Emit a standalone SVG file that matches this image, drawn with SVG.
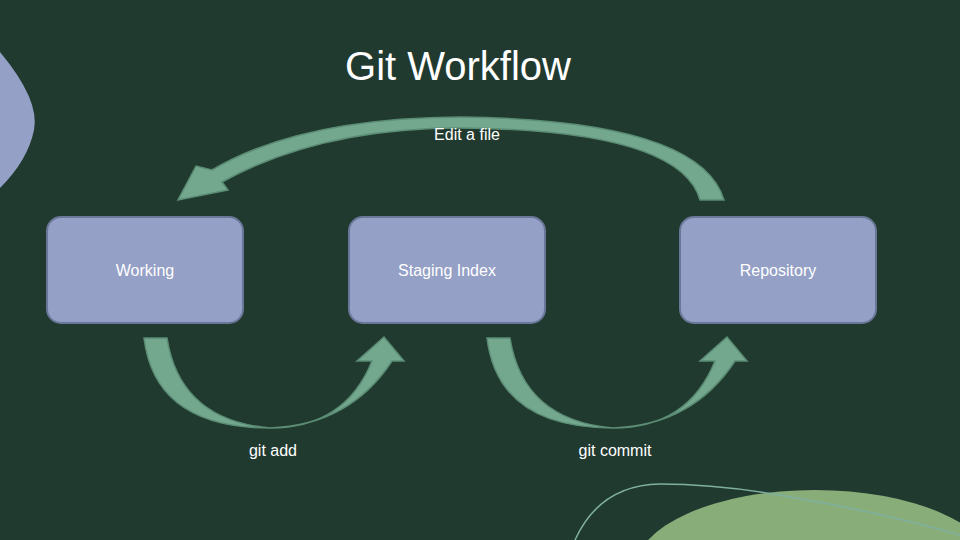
<svg xmlns="http://www.w3.org/2000/svg" width="960" height="540" viewBox="0 0 960 540">
<style>
.box{fill:#94a0c6;stroke:#6b7799;stroke-width:2}
.lbl{font-family:"Liberation Sans",Arial,sans-serif;font-size:16px;fill:#fff;text-anchor:middle}
.arr{fill:#73a88e;stroke:#5b8c74;stroke-width:1.5}
</style>
<rect width="960" height="540" fill="#213a30"/>
<path d="M0,52 Q40,100 34,130 Q28,160 0,188 Z" fill="#94a0c6"/>
<ellipse cx="815" cy="570" rx="180" ry="80" fill="#89ad78"/>
<path d="M575,540 Q600,485 660,484 Q720,484 790,497 Q880,512 960,535" fill="none" stroke="#7fb0a0" stroke-width="1.5"/>
<text x="458" y="80" class="lbl" style="font-size:40px">Git Workflow</text>
<g id="connectors">
<path class="arr" d="M724,200 Q700,120 460,117 Q300,118 212,170 L196,166 L178,200 L228,190 L222,182 Q320,128 460,128 Q680,130 700,200 Z"/>
<path class="arr" d="M144,338 Q155,428 270,428 Q345,428 372,361 L357,361 L384,337 L404,361 L392,361 Q350,425 270,428 Q180,420 167,338 Z"/>
<path class="arr" d="M487,338 Q498,428 613,428 Q688,428 715,361 L700,361 L727,337 L747,361 L735,361 Q693,425 613,428 Q523,420 510,338 Z"/>
<text x="467" y="140" class="lbl">Edit a file</text>
<text x="273" y="456" class="lbl">git add</text>
<text x="615" y="456" class="lbl">git commit</text>
</g>
<g id="working"><rect class="box" x="47" y="217" width="196" height="106" rx="14"/><text x="145" y="276" class="lbl">Working</text></g>
<g id="staging"><rect class="box" x="349" y="217" width="196" height="106" rx="14"/><text x="447" y="276" class="lbl">Staging Index</text></g>
<g id="repository"><rect class="box" x="680" y="217" width="196" height="106" rx="14"/><text x="778" y="276" class="lbl">Repository</text></g>
</svg>
